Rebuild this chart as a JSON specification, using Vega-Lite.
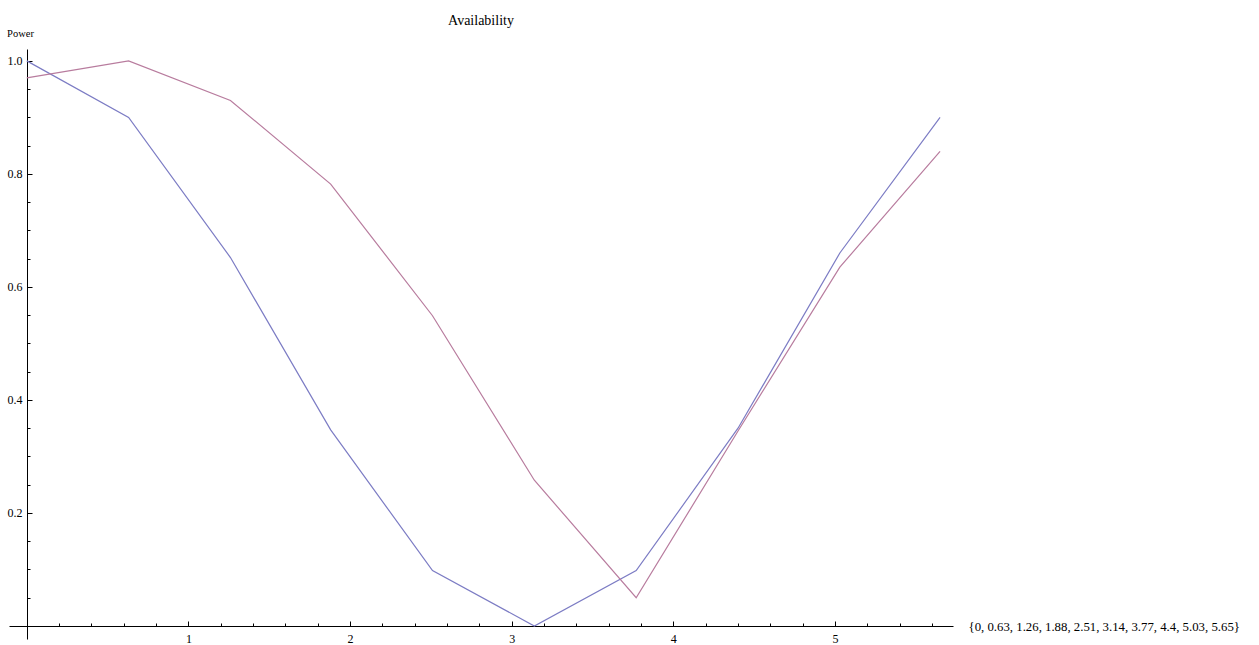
{
  "$schema": "https://vega.github.io/schema/vega-lite/v6.json",
  "width": 944,
  "height": 590,
  "autosize": "none",
  "padding": {"left": 9, "top": 49, "right": 306, "bottom": 6},
  "background": "white",
  "title": {"text": "Availability", "font": "Liberation Serif", "fontSize": 14, "fontWeight": "normal", "color": "black", "anchor": "middle", "frame": "group", "offset": 0},
  "config": {
    "view": {"stroke": null},
    "axis": {"grid": false, "labelFont": "Liberation Serif", "titleFont": "Liberation Serif", "labelColor": "black", "titleColor": "black", "domainColor": "black", "tickColor": "black", "labelFontSize": 12, "titleFontWeight": "normal"}
  },
  "data": {"values": [
    {"x": 0, "power": 1.0, "series": "A"},
    {"x": 0.63, "power": 0.90, "series": "A"},
    {"x": 1.26, "power": 0.652, "series": "A"},
    {"x": 1.88, "power": 0.347, "series": "A"},
    {"x": 2.51, "power": 0.098, "series": "A"},
    {"x": 3.14, "power": 0.0, "series": "A"},
    {"x": 3.77, "power": 0.098, "series": "A"},
    {"x": 4.4, "power": 0.35, "series": "A"},
    {"x": 5.03, "power": 0.66, "series": "A"},
    {"x": 5.65, "power": 0.90, "series": "A"},
    {"x": 0, "power": 0.97, "series": "B"},
    {"x": 0.63, "power": 1.0, "series": "B"},
    {"x": 1.26, "power": 0.93, "series": "B"},
    {"x": 1.88, "power": 0.782, "series": "B"},
    {"x": 2.51, "power": 0.549, "series": "B"},
    {"x": 3.14, "power": 0.258, "series": "B"},
    {"x": 3.77, "power": 0.05, "series": "B"},
    {"x": 4.4, "power": 0.345, "series": "B"},
    {"x": 5.03, "power": 0.635, "series": "B"},
    {"x": 5.65, "power": 0.84, "series": "B"}
  ]},
  "layer": [
    {
      "mark": {"type": "line", "strokeWidth": 1.2},
      "encoding": {
        "x": {"field": "x", "type": "quantitative", "scale": {"domain": [-0.11, 5.73], "nice": false, "zero": false},
          "axis": {"orient": "bottom", "values": [1, 2, 3, 4, 5], "format": "d", "offset": -13, "tickSize": -5, "labelPadding": 12, "labelFontSize": 12,
            "title": "{0, 0.63, 1.26, 1.88, 2.51, 3.14, 3.77, 4.4, 5.03, 5.65}", "titleX": 959, "titleY": 0, "titleAlign": "left", "titleBaseline": "middle", "titleFontSize": 12.8, "titleAnchor": null}},
        "y": {"field": "power", "type": "quantitative", "scale": {"domain": [-0.023, 1.021], "nice": false, "zero": false},
          "axis": {"orient": "left", "values": [0.2, 0.4, 0.6, 0.8, 1.0], "format": ".1f", "offset": -18, "tickSize": -5, "labelPadding": 10, "labelFontSize": 12,
            "title": "Power", "titleAngle": 0, "titleX": -7, "titleY": -13, "titleAlign": "center", "titleBaseline": "alphabetic", "titleFontSize": 10.5}},
        "color": {"field": "series", "type": "nominal", "scale": {"domain": ["A", "B"], "range": ["#7c7cc4", "#b87c9e"]}, "legend": null}
      }
    },
    {
      "mark": {"type": "point", "opacity": 0},
      "encoding": {
        "x": {"field": "x", "type": "quantitative",
          "axis": {"orient": "bottom", "values": [0.2, 0.4, 0.6, 0.8, 1.2, 1.4, 1.6, 1.8, 2.2, 2.4, 2.6, 2.8, 3.2, 3.4, 3.6, 3.8, 4.2, 4.4, 4.6, 4.8, 5.2, 5.4, 5.6], "labels": false, "domain": false, "offset": -13, "tickSize": -3, "title": null}},
        "y": {"field": "power", "type": "quantitative",
          "axis": {"orient": "left", "values": [0.05, 0.1, 0.15, 0.25, 0.3, 0.35, 0.45, 0.5, 0.55, 0.65, 0.7, 0.75, 0.85, 0.9, 0.95], "labels": false, "domain": false, "offset": -18, "tickSize": -3, "title": null}}
      }
    }
  ],
  "resolve": {"axis": {"x": "independent", "y": "independent"}}
}
